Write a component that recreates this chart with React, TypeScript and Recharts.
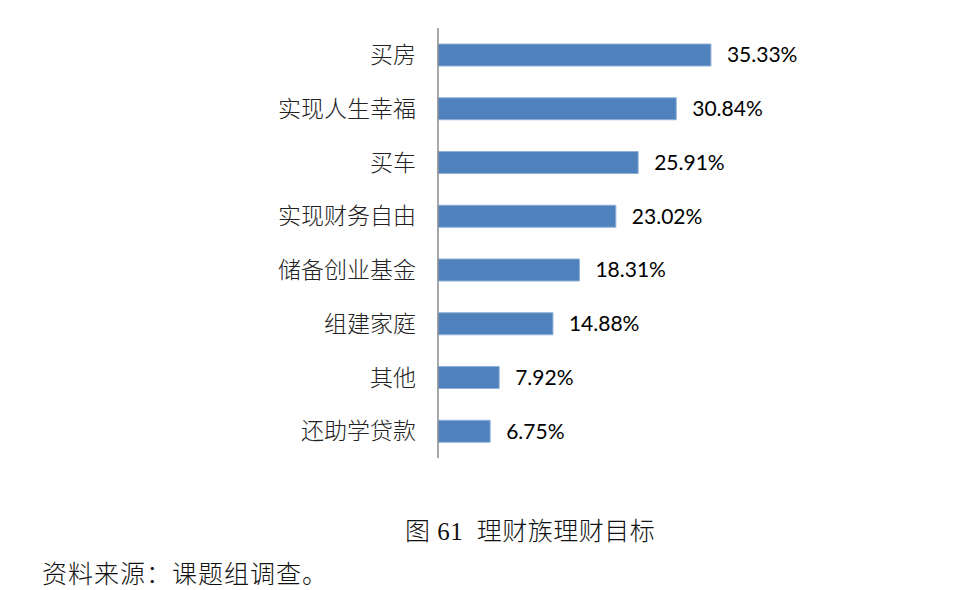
import React from "react";
import { BarChart, Bar, XAxis, YAxis, LabelList } from "recharts";

const categories = [
  "买房",
  "实现人生幸福",
  "买车",
  "实现财务自由",
  "储备创业基金",
  "组建家庭",
  "其他",
  "还助学贷款",
];
const shares = [35.33, 30.84, 25.91, 23.02, 18.31, 14.88, 7.92, 6.75];

const data = categories.map((name, i) => ({ name, value: shares[i] }));

const CJK = "'Noto Sans CJK SC', sans-serif";

export default function App() {
  return (
    <div
      style={{
        position: "absolute",
        left: 0,
        top: 0,
        width: 967,
        height: 590,
        background: "#fff",
        overflow: "hidden",
      }}
    >
      <BarChart
        width={967}
        height={480}
        data={data}
        layout="vertical"
        margin={{ top: 28, right: 220, bottom: 22, left: 0 }}
        barCategoryGap="29%"
      >
        <XAxis type="number" domain={[0, 40]} hide />
        <YAxis
          type="category"
          dataKey="name"
          width={438}
          tickLine={false}
          axisLine={{ stroke: "#8c8c8c", strokeWidth: 1.5 }}
          tickMargin={16}
          tick={{ fill: "#222", fontSize: 23, fontFamily: CJK, fontWeight: 300 }}
        />
        <Bar
          dataKey="value"
          fill="#4f81bd"
          stroke="#8fb0d8"
          strokeWidth={1}
          barSize={22}
          isAnimationActive={false}
        >
          <LabelList
            dataKey="value"
            position="right"
            offset={16}
            formatter={(v: number) => `${v.toFixed(2)}%`}
            style={{ fill: "#000", fontSize: 21, fontFamily: "Lato, 'Open Sans', sans-serif" }}
          />
        </Bar>
      </BarChart>
      <div
        style={{
          position: "absolute",
          left: 405,
          top: 517,
          fontSize: 25,
          fontFamily: `'Liberation Serif', ${CJK}`,
          fontWeight: 300,
          color: "#111",
          whiteSpace: "pre",
          lineHeight: "30px",
          letterSpacing: 0.5,
        }}
      >
        图 61  理财族理财目标
      </div>
      <div
        style={{
          position: "absolute",
          left: 42,
          top: 557,
          fontSize: 25,
          fontFamily: CJK,
          fontWeight: 300,
          color: "#111",
          whiteSpace: "pre",
          lineHeight: "30px",
          letterSpacing: 1,
        }}
      >
        资料来源：课题组调查。
      </div>
    </div>
  );
}
